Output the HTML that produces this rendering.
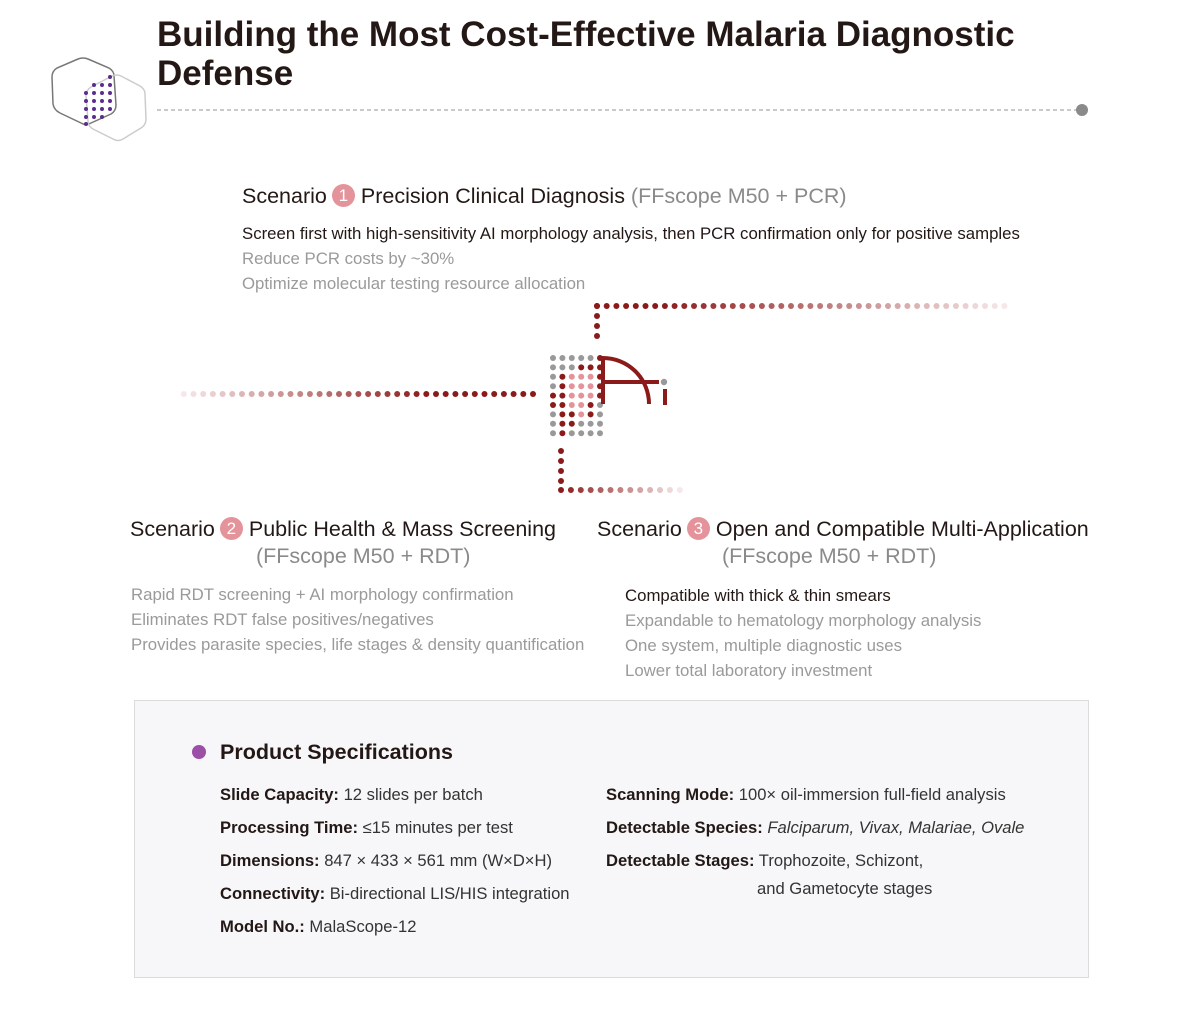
<!DOCTYPE html>
<html><head><meta charset="utf-8">
<style>
body{margin:0;width:1200px;height:1022px;background:#fff;position:relative;overflow:hidden;font-family:"Liberation Sans","Noto Sans CJK SC",sans-serif;color:#231815}
.t{position:absolute;white-space:nowrap}
.h1{font-size:35px;font-weight:bold;line-height:40px;color:#231815}
.sh{font-size:21.5px;line-height:26px;color:#231815}
.g{color:#8a8a8a}
.b{font-size:16.8px;line-height:20px}
.lg{color:#9a9a9a}
.num{display:inline-block;width:23px;height:23px;border-radius:50%;background:#e5939b;color:#fff;font-size:17px;line-height:23px;text-align:center;vertical-align:2px;margin:0 6px 0 5px}
.box{position:absolute;left:134px;top:700px;width:953px;height:276px;background:#f7f7f9;border:1.5px solid #dcdcdc}
.sp{font-size:16.6px;line-height:20px;color:#333}
.sp b{color:#231815}
</style></head><body>
<svg width="1200" height="1022" style="position:absolute;left:0;top:0">
<path d="M78,59 Q83,57 88,59 L109,68 Q114,71 114,76 L116,105 Q116,111 111,114 L91,123 Q86,126 81,123 L60,113 Q54,110 53,104 L52,77 Q52,71 57,68 Z" fill="none" stroke="#777" stroke-width="1.5"/>
<path d="M112,76 Q117,74 121,76 L140,86 Q145,89 145,94 L146,119 Q146,125 141,128 L123,139 Q118,142 113,139 L93,129 Q88,126 88,121 L86,96 Q86,90 91,87 Z" fill="none" stroke="#ccc" stroke-width="1.5"/>
<g fill="#5b2d8e">
<circle cx="110" cy="77" r="2"/>
<circle cx="94" cy="85" r="2"/><circle cx="102" cy="85" r="2"/><circle cx="110" cy="85" r="2"/>
<circle cx="86" cy="93" r="2"/><circle cx="94" cy="93" r="2"/><circle cx="102" cy="93" r="2"/><circle cx="110" cy="93" r="2"/>
<circle cx="86" cy="101" r="2"/><circle cx="94" cy="101" r="2"/><circle cx="102" cy="101" r="2"/><circle cx="110" cy="101" r="2"/>
<circle cx="86" cy="109" r="2"/><circle cx="94" cy="109" r="2"/><circle cx="102" cy="109" r="2"/><circle cx="110" cy="109" r="2"/>
<circle cx="86" cy="117" r="2"/><circle cx="94" cy="117" r="2"/><circle cx="102" cy="117" r="2"/>
<circle cx="86" cy="124" r="2"/>
</g>
<line x1="157" y1="110" x2="1078" y2="110" stroke="#aaa" stroke-width="1.2" stroke-dasharray="4,3"/>
<circle cx="1082" cy="110" r="6" fill="#8a8a8a"/>
<g id="dots"></g>
<path d="M603,404 V358 A46,46 0 0 1 649,404" fill="none" stroke="#8b1a1a" stroke-width="4"/>
<line x1="603" y1="382" x2="659" y2="382" stroke="#8b1a1a" stroke-width="4"/>
<line x1="665" y1="389" x2="665" y2="405" stroke="#8b1a1a" stroke-width="4"/>
<circle cx="664" cy="382" r="3.2" fill="#999"/>
</svg>
<script>
(function(){
var g=document.getElementById('dots'),s='';
function mix(t){var a=[139,26,26],b=[246,232,232];return 'rgb('+a.map(function(v,i){return Math.round(v+(b[i]-v)*t)}).join(',')+')';}
function dot(x,y,c){s+='<circle cx="'+x+'" cy="'+y+'" r="3" fill="'+c+'"/>';}
var i,n;
for(i=0;i<4;i++)dot(597,336-i*10,'#8b1a1a');
n=Math.round((1005-597)/9.7);for(i=0;i<=n;i++){var t=i/n;dot(597+i*9.7,306,mix(Math.max(0,(t-0.15)/0.85)));}
n=Math.round((533-183)/9.7);for(i=0;i<=n;i++){var t=i/n;dot(533-i*9.7,394,mix(Math.max(0,(t-0.3)/0.7)));}
for(i=0;i<4;i++)dot(561,451+i*10,'#8b1a1a');
n=12;for(i=0;i<=n;i++){var t=i/n;dot(561+i*9.9,490,mix(Math.max(0,t*1.0)));}
var G={g:'#999',r:'#8b1a1a',p:'#e5939b'};
var rows=['gggggr','gggrrr','grpppr','grpppr','rrpppr','rrpprg','grrprg','grrggg','grgggg'];
for(var r=0;r<rows.length;r++)for(var c=0;c<6;c++)dot(553+c*9.4,358+r*9.4,G[rows[r][c]]);
g.innerHTML=s;
})();
</script>
<div class="t h1" style="left:157px;top:15px">Building the Most Cost-Effective Malaria Diagnostic</div>
<div class="t h1" style="left:157px;top:54px">Defense</div>

<div class="t sh" style="left:242px;top:183px">Scenario<span class="num">1</span>Precision Clinical Diagnosis <span class="g">(FFscope M50 + PCR)</span></div>
<div class="t b" style="left:242px;top:224px">Screen first with high-sensitivity AI morphology analysis, then PCR confirmation only for positive samples</div>
<div class="t b lg" style="left:242px;top:249px">Reduce PCR costs by ~30%</div>
<div class="t b lg" style="left:242px;top:274px">Optimize molecular testing resource allocation</div>

<div class="t sh" style="left:130px;top:516px">Scenario<span class="num">2</span>Public Health &amp; Mass Screening</div>
<div class="t sh g" style="left:256px;top:543px">(FFscope M50 + RDT)</div>
<div class="t b lg" style="left:131px;top:585px">Rapid RDT screening + AI morphology confirmation</div>
<div class="t b lg" style="left:131px;top:610px">Eliminates RDT false positives/negatives</div>
<div class="t b lg" style="left:131px;top:635px">Provides parasite species, life stages &amp; density quantification</div>

<div class="t sh" style="left:597px;top:516px">Scenario<span class="num">3</span>Open and Compatible Multi-Application</div>
<div class="t sh g" style="left:722px;top:543px">(FFscope M50 + RDT)</div>
<div class="t b" style="left:625px;top:586px">Compatible with thick &amp; thin smears</div>
<div class="t b lg" style="left:625px;top:611px">Expandable to hematology morphology analysis</div>
<div class="t b lg" style="left:625px;top:636px">One system, multiple diagnostic uses</div>
<div class="t b lg" style="left:625px;top:661px">Lower total laboratory investment</div>

<div class="box"></div>
<div style="position:absolute;left:192px;top:745px;width:14px;height:14px;border-radius:50%;background:#9b4fa6"></div>
<div class="t" style="left:220px;top:738px;font-size:21.5px;font-weight:bold;line-height:28px">Product Specifications</div>
<div class="t sp" style="left:220px;top:785px"><b>Slide Capacity:</b> 12 slides per batch</div>
<div class="t sp" style="left:220px;top:818px"><b>Processing Time:</b> ≤15 minutes per test</div>
<div class="t sp" style="left:220px;top:851px"><b>Dimensions:</b> 847 × 433 × 561 mm (W×D×H)</div>
<div class="t sp" style="left:220px;top:884px"><b>Connectivity:</b> Bi-directional LIS/HIS integration</div>
<div class="t sp" style="left:220px;top:917px"><b>Model No.:</b> MalaScope-12</div>
<div class="t sp" style="left:606px;top:785px"><b>Scanning Mode:</b> 100× oil-immersion full-field analysis</div>
<div class="t sp" style="left:606px;top:818px"><b>Detectable Species:</b> <i>Falciparum, Vivax, Malariae, Ovale</i></div>
<div class="t sp" style="left:606px;top:851px"><b>Detectable Stages:</b> Trophozoite, Schizont,</div>
<div class="t sp" style="left:757px;top:879px">and Gametocyte stages</div>
</body></html>
